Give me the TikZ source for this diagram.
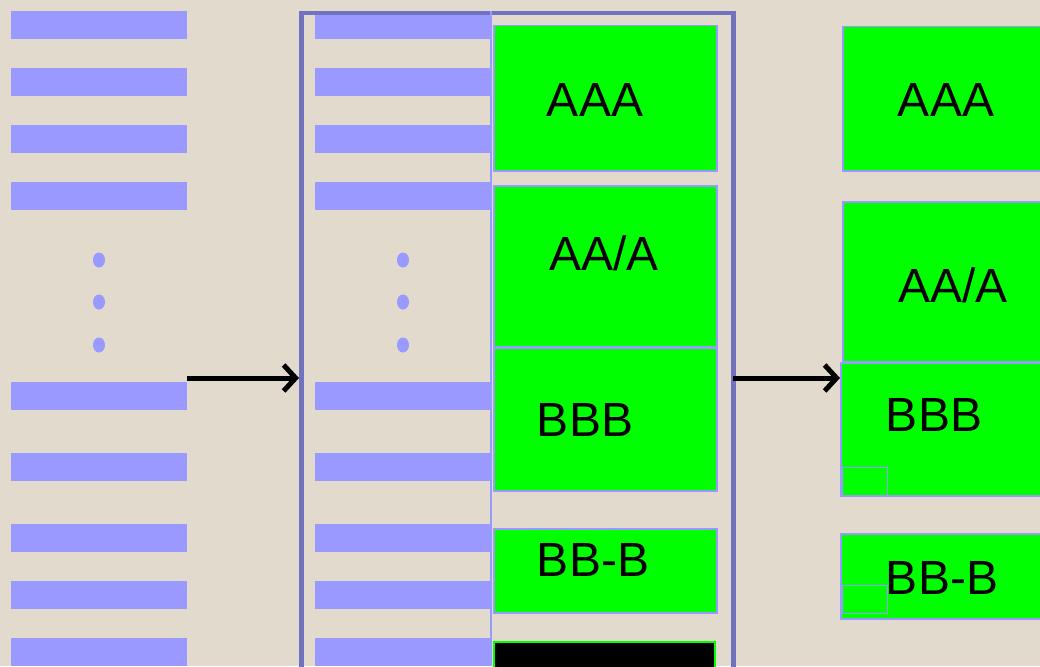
\documentclass[tikz,border=0pt]{standalone}
\usepackage{fontspec}
\setmainfont{Liberation Sans}
\usetikzlibrary{arrows.meta,shapes.geometric}
\definecolor{bg}{RGB}{226,218,205}
\definecolor{barblue}{RGB}{153,153,255}
\definecolor{frameblue}{RGB}{114,114,192}
\definecolor{boxgreen}{RGB}{0,255,0}
\tikzset{
  bar/.style={fill=barblue, draw=none, anchor=north west, minimum width=176pt, minimum height=28pt, inner sep=0pt},
  vdot/.style={fill=barblue, draw=none, ellipse, minimum width=12pt, minimum height=15pt, inner sep=0pt},
  gbox/.style={fill=boxgreen, draw=barblue, line width=1.5pt, anchor=north west, inner sep=0pt},
  lbl/.style={font=\fontsize{48}{56}\selectfont, text=black, inner sep=0pt},
  arr/.style={line width=5pt, -{Straight Barb[length=12pt,width=26pt,line width=5pt]}},
  smallbox/.style={draw=barblue, line width=1pt, fill=boxgreen, anchor=north west, minimum width=45pt, minimum height=28pt, inner sep=0pt}
}
\begin{document}
\begin{tikzpicture}[x=1pt,y=-1pt]
\useasboundingbox (0,0) rectangle (1040,666);
\fill[bg] (0,0) rectangle (1040,666);
% bars
\foreach \i/\y in {1/11,2/68,3/125,4/182,5/382,6/453,7/524,8/581,9/638}{
  \node[bar] (l\i) at (11,\y) {};
  \node[bar] (m\i) at (315,\y) {};
}
\foreach \i/\y in {1/260,2/302,3/345}{
  \node[vdot] (ld\i) at (99,\y) {};
  \node[vdot] (md\i) at (403,\y) {};
}
% middle frame
\node[draw=frameblue, line width=4.5pt, anchor=north west, minimum width=432pt, minimum height=680pt, inner sep=0pt] (frame) at (299,11) {};
\draw[barblue, line width=1.5pt] (491,11) -- (491,666);
% middle green boxes
\node[gbox, minimum width=223pt, minimum height=145pt] (g1) at (493,25) {};
\node[gbox, minimum width=223pt, minimum height=161pt] (g2) at (493,185) {};
\node[gbox, minimum width=223pt, minimum height=143pt] (g3) at (493,347) {};
\node[gbox, minimum width=223pt, minimum height=84pt] (g4) at (493,528) {};
\node[fill=black, draw=boxgreen, line width=1.5pt, anchor=north west, minimum width=221pt, minimum height=40pt, inner sep=0pt] (g5) at (493,641) {};
\node[lbl] (t1) at (595,100) {AAA};
\node[lbl] (t2) at (604,253) {AA/A};
\node[lbl] (t3) at (585,420) {BBB};
\node[lbl] (t4) at (593,560) {BB-B};
% right green boxes
\node[gbox, minimum width=210pt, minimum height=144pt] (r1) at (842,26) {};
\node[gbox, minimum width=210pt, minimum height=160pt] (r2) at (842,201) {};
\node[gbox, minimum width=212pt, minimum height=133pt] (r3) at (840,362) {};
\node[smallbox] (s3) at (842,467) {};
\node[gbox, minimum width=212pt, minimum height=85pt] (r4) at (840,533) {};
\node[smallbox] (s4) at (842,585) {};
\node[lbl] (u1) at (946,100) {AAA};
\node[lbl] (u2) at (953,285) {AA/A};
\node[lbl] (u3) at (934,415) {BBB};
\node[lbl] (u4) at (942,578) {BB-B};
% arrows
\coordinate (a1) at (187,378);
\coordinate (a2) at (733,378);
\draw[arr] (a1) -- (frame.west |- a1);
\draw[arr] (a2) -- (r3.west |- a2);
\end{tikzpicture}
\end{document}
